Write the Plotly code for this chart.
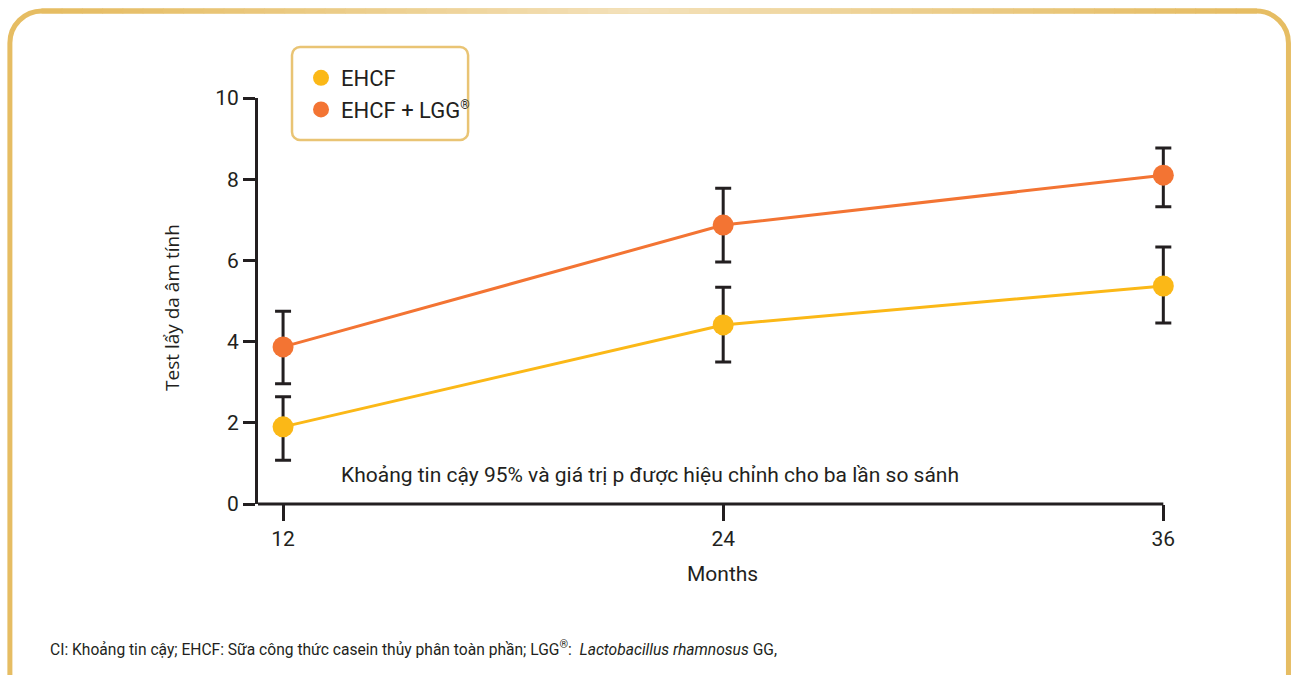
import plotly.graph_objects as go

# ---------------- data ----------------
months = [12, 24, 36]
ehcf = [1.90, 4.41, 5.37]
ehcf_upper = [2.64, 5.34, 6.33]
ehcf_lower = [1.08, 3.50, 4.46]
lgg = [3.87, 6.87, 8.10]
lgg_upper = [4.75, 7.78, 8.77]
lgg_lower = [2.96, 5.96, 7.32]
y_ticks = [0, 2, 4, 6, 8, 10]
x_ticks = [12, 24, 36]
series_names = ["EHCF", "EHCF + LGG<sup><span style='font-size:12px'>®</span></sup>"]

# ---------------- style ----------------
W, H = 1292, 675
PX_PER_MONTH = (722 - 283) / 12
X_LO = 12 - (283 - 258) / PX_PER_MONTH
X_HI = 36 + 1.0
L, T, B = 258, 98, 504
R = 1163 + (X_HI - 36) * PX_PER_MONTH
YELLOW = "#FBB817"
ORANGE = "#F37433"
DARK = "#231F20"
GOLD = "#E6BD63"
COND = "Roboto, sans-serif"


def px(x):
    return (x - L) / (R - L)


def py(y):
    return (B - y) / (B - T)


def up(a, b):
    return [u - v for u, v in zip(a, b)]


fig = go.Figure()

for name, vals, hi, lo, col in [
    (series_names[0], ehcf, ehcf_upper, ehcf_lower, YELLOW),
    (series_names[1], lgg, lgg_upper, lgg_lower, ORANGE),
]:
    fig.add_trace(go.Scatter(
        x=months, y=vals, mode="lines+markers", name=name, showlegend=False,
        line=dict(color=col, width=3),
        marker=dict(color=col, size=21),
        error_y=dict(type="data", symmetric=False, array=up(hi, vals),
                     arrayminus=up(vals, lo), color=DARK, thickness=3, width=8),
        cliponaxis=False,
    ))
    fig.add_trace(go.Scatter(
        x=[None], y=[None], mode="markers", name=name, showlegend=True,
        marker=dict(color=col, size=20),
    ))

# ---------------- shapes ----------------
shapes = []
# x-axis line ending at the last month
shapes.append(dict(type="line", xref="x", yref="paper", x0=X_LO, x1=months[-1], y0=0, y1=0,
                   line=dict(color=DARK, width=3), layer="above"))

x0, x1, y0, r = 10, 1288, 11, 32
k = 0.5523 * r
yb = 720
path = (f"M {px(x0)},{py(yb)} L {px(x0)},{py(y0 + r)} "
        f"C {px(x0)},{py(y0 + r - k)} {px(x0 + r - k)},{py(y0)} {px(x0 + r)},{py(y0)} "
        f"L {px(x1 - r)},{py(y0)} "
        f"C {px(x1 - r + k)},{py(y0)} {px(x1)},{py(y0 + r - k)} {px(x1)},{py(y0 + r)} "
        f"L {px(x1)},{py(yb)}")
shapes.append(dict(type="path", xref="paper", yref="paper", path=path,
                   line=dict(color=GOLD, width=5), layer="below"))

# lighter gradient along top edge
c_edge = (0xE6, 0xBD, 0x63)
c_mid = (0xF4, 0xE2, 0xBC)
n = 60
xs0, xs1, xm = x0 + r, x1 - r, 640
for i in range(n):
    a = xs0 + (xs1 - xs0) * i / n
    b = xs0 + (xs1 - xs0) * (i + 1) / n
    c = (a + b) / 2
    if c < xm:
        t = (c - xs0) / (xm - xs0)
    else:
        t = (xs1 - c) / (xs1 - xm)
    t = max(0, min(1, t)) ** 1.2
    col = tuple(int(e + (m - e) * t) for e, m in zip(c_edge, c_mid))
    shapes.append(dict(type="line", xref="paper", yref="paper",
                       x0=px(a - 0.5), x1=px(b + 0.5), y0=py(y0), y1=py(y0),
                       line=dict(color="rgb(%d,%d,%d)" % col, width=5), layer="below"))

# legend box (rounded)
lx0, ly0, lx1, ly1, lr = 292, 47, 468, 140, 8
lk = 0.5523 * lr
lpath = (f"M {px(lx0 + lr)},{py(ly0)} L {px(lx1 - lr)},{py(ly0)} "
         f"C {px(lx1 - lr + lk)},{py(ly0)} {px(lx1)},{py(ly0 + lr - lk)} {px(lx1)},{py(ly0 + lr)} "
         f"L {px(lx1)},{py(ly1 - lr)} "
         f"C {px(lx1)},{py(ly1 - lr + lk)} {px(lx1 - lr + lk)},{py(ly1)} {px(lx1 - lr)},{py(ly1)} "
         f"L {px(lx0 + lr)},{py(ly1)} "
         f"C {px(lx0 + lr - lk)},{py(ly1)} {px(lx0)},{py(ly1 - lr + lk)} {px(lx0)},{py(ly1 - lr)} "
         f"L {px(lx0)},{py(ly0 + lr)} "
         f"C {px(lx0)},{py(ly0 + lr - lk)} {px(lx0 + lr - lk)},{py(ly0)} {px(lx0 + lr)},{py(ly0)} Z")
shapes.append(dict(type="path", xref="paper", yref="paper", path=lpath,
                   line=dict(color="#E9C474", width=2.5), fillcolor="white", layer="below"))

annotations = [
    dict(text="Khoảng tin cậy 95% và giá trị p được hiệu chỉnh cho ba lần so sánh",
         xref="paper", yref="paper", x=px(650), y=py(475), showarrow=False,
         xanchor="center", yanchor="middle", font=dict(family=COND, size=21, color=DARK)),
    dict(text="CI: Khoảng tin cậy; EHCF: Sữa công thức casein thủy phân toàn phần; LGG<sup>®</sup>:  "
              "<i>Lactobacillus rhamnosus</i> GG,",
         xref="paper", yref="paper", x=px(48), y=py(648), showarrow=False,
         xanchor="left", yanchor="middle", font=dict(family=COND, size=15.6, color=DARK)),
    dict(text="Test lẩy da âm tính", xref="paper", yref="paper", x=px(172), y=py(307),
         showarrow=False, textangle=-90, xanchor="center", yanchor="middle",
         font=dict(family="Open Sans, sans-serif", size=19, color=DARK)),
    dict(text="Months", xref="paper", yref="paper", x=px(722), y=py(574), showarrow=False,
         xanchor="center", yanchor="middle", font=dict(family=COND, size=21, color=DARK)),
]

fig.update_layout(
    width=W, height=H,
    margin=dict(l=L, r=W - R, t=T, b=H - B),
    paper_bgcolor="white", plot_bgcolor="white",
    shapes=shapes, annotations=annotations,
    showlegend=True,
    legend=dict(x=px(301), y=py(57), xanchor="left", yanchor="top",
                bgcolor="rgba(0,0,0,0)", borderwidth=0, tracegroupgap=0,
                font=dict(family=COND, size=22, color=DARK), itemsizing="trace"),
    xaxis=dict(range=[X_LO, X_HI], tickvals=x_ticks,
               showgrid=False, zeroline=False, showline=False,
               ticks="outside", ticklen=16, tickwidth=2.5, tickcolor=DARK,
               tickfont=dict(family=COND, size=21, color=DARK), fixedrange=True),
    yaxis=dict(range=[0, 10], tickvals=y_ticks, showgrid=False, zeroline=False,
               showline=True, linecolor=DARK, linewidth=3,
               ticks="outside", ticklen=12, tickwidth=2.5, tickcolor=DARK,
               tickfont=dict(family=COND, size=21, color=DARK), fixedrange=True),
)

fig.write_html("out.html")
